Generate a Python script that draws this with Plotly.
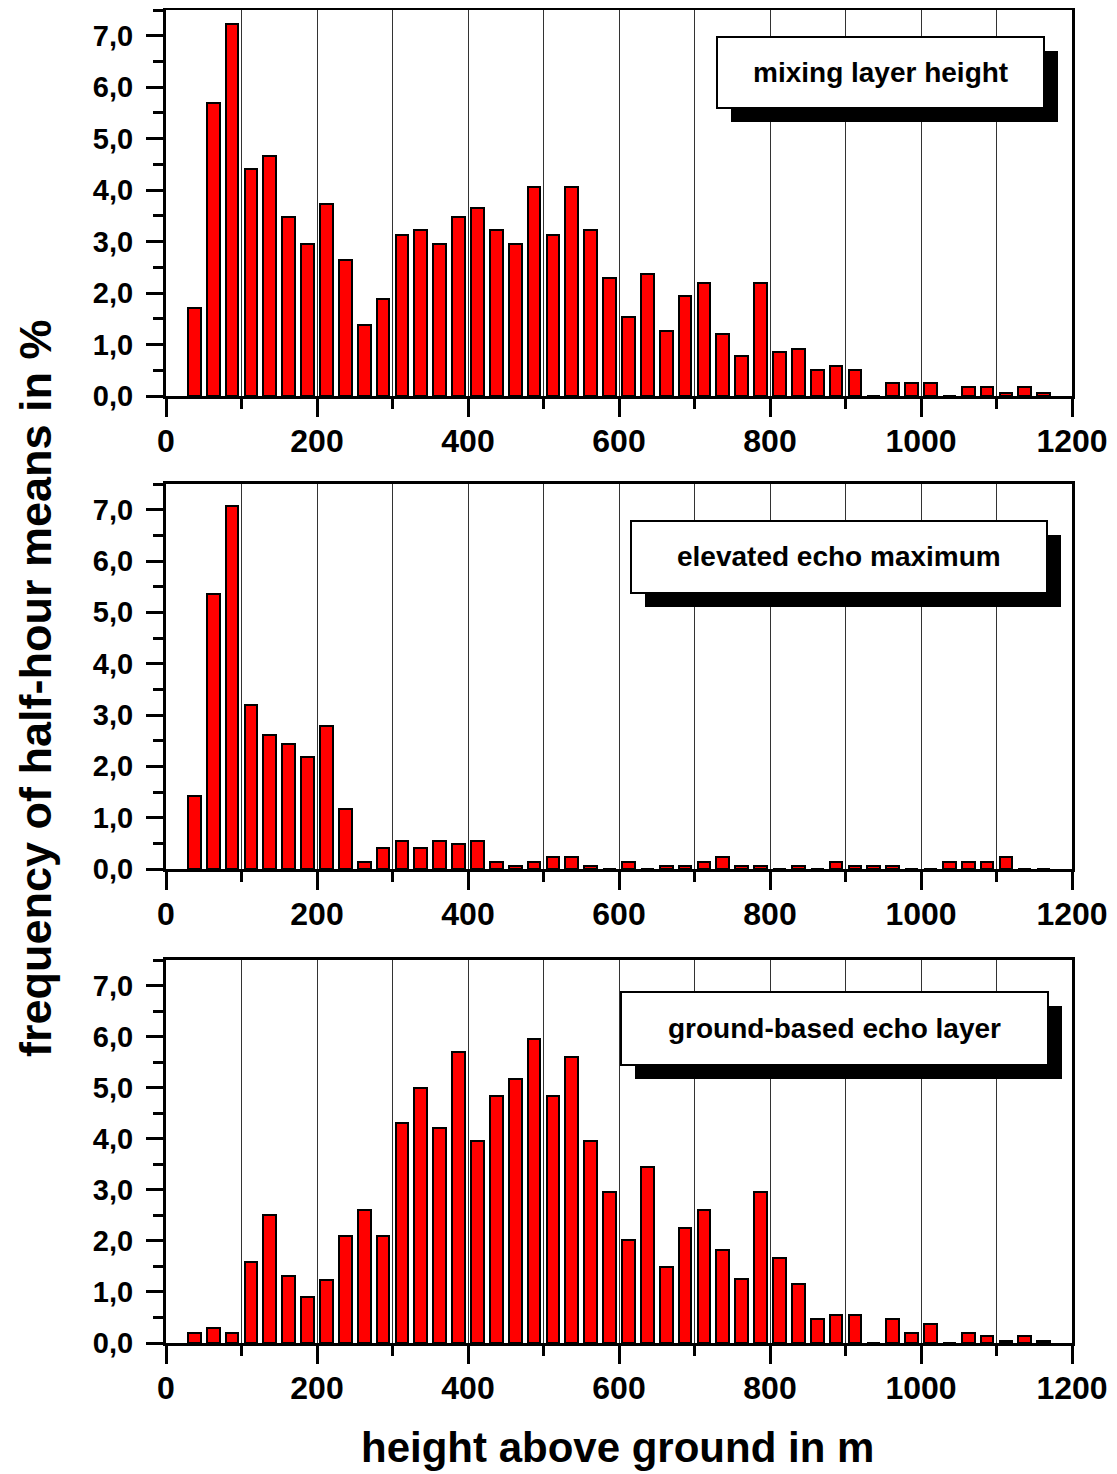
import plotly.graph_objects as go

# page offset of the plotly div (default body margin of the html page)
OFF = 8
W, H = 1117 - OFF, 1474 - OFF

heights = [37.5, 62.5, 87.5, 112.5, 137.5, 162.5, 187.5, 212.5, 237.5, 262.5,
           287.5, 312.5, 337.5, 362.5, 387.5, 412.5, 437.5, 462.5, 487.5, 512.5,
           537.5, 562.5, 587.5, 612.5, 637.5, 662.5, 687.5, 712.5, 737.5, 762.5,
           787.5, 812.5, 837.5, 862.5, 887.5, 912.5, 937.5, 962.5, 987.5, 1012.5,
           1037.5, 1062.5, 1087.5, 1112.5, 1137.5, 1162.5]

mixing_layer = [1.71, 5.70, 7.22, 4.41, 4.66, 3.48, 2.96, 3.73, 2.65, 1.37,
                1.88, 3.13, 3.23, 2.96, 3.48, 3.65, 3.23, 2.96, 4.07, 3.13,
                4.07, 3.23, 2.30, 1.54, 2.37, 1.27, 1.95, 2.20, 1.20, 0.77,
                2.20, 0.85, 0.92, 0.50, 0.59, 0.50, 0.0, 0.25, 0.25, 0.25,
                0.0, 0.17, 0.17, 0.05, 0.17, 0.05]

elevated_echo = [1.42, 5.36, 7.07, 3.20, 2.61, 2.44, 2.19, 2.79, 1.17, 0.14,
                 0.41, 0.55, 0.41, 0.55, 0.48, 0.55, 0.14, 0.05, 0.14, 0.23,
                 0.23, 0.05, 0.0, 0.14, 0.0, 0.05, 0.05, 0.14, 0.23, 0.05,
                 0.05, 0.0, 0.05, 0.0, 0.14, 0.05, 0.05, 0.05, 0.0, 0.0,
                 0.14, 0.14, 0.14, 0.23, 0.0, 0.0]

ground_echo = [0.19, 0.30, 0.19, 1.59, 2.50, 1.32, 0.90, 1.24, 2.09, 2.61,
               2.09, 4.31, 4.99, 4.22, 5.69, 3.96, 4.83, 5.17, 5.95, 4.83,
               5.60, 3.96, 2.95, 2.01, 3.44, 1.49, 2.26, 2.61, 1.83, 1.25,
               2.95, 1.66, 1.15, 0.47, 0.55, 0.55, 0.0, 0.47, 0.19, 0.37,
               0.0, 0.19, 0.13, 0.04, 0.13, 0.04]

panel_labels = ["mixing layer height", "elevated echo maximum", "ground-based echo layer"]
series = [mixing_layer, elevated_echo, ground_echo]

x_tickvals = [0, 200, 400, 600, 800, 1000, 1200]
x_ticktext = ["0", "200", "400", "600", "800", "1000", "1200"]
y_tickvals = [0, 1, 2, 3, 4, 5, 6, 7]
y_ticktext = ["0,0", "1,0", "2,0", "3,0", "4,0", "5,0", "6,0", "7,0"]

x_title = "height above ground in m"
y_title = "frequency of half-hour means in %"

FONT = "Liberation Sans, Arial, sans-serif"

# pixel layout (page coordinates of the reference)
plot_left, plot_right = 166, 1072
panel_px = [(10, 396), (484, 869), (960, 1343)]
box_px = [(717, 37, 1044, 108), (631, 521, 1047, 593), (621, 992, 1048, 1065)]
shadow_off = (14, 14)


def px(x):
    return (x - OFF) / W


def py(y):
    return 1 - (y - OFF) / H


fig = go.Figure()
shapes = []
annotations = []

for i, (vals, label) in enumerate(zip(series, panel_labels)):
    n = "" if i == 0 else str(i + 1)
    fig.add_trace(go.Bar(
        x=heights, y=vals, width=17,
        marker=dict(color="#ff0000", line=dict(color="black", width=2)),
        xaxis="x" + n, yaxis="y" + n, showlegend=False,
    ))
    top, bot = panel_px[i]
    fig.update_layout(**{
        "xaxis" + n: dict(
            domain=[px(plot_left), px(plot_right)], anchor="y" + n,
            range=[0, 1200], tickvals=x_tickvals, ticktext=x_ticktext,
            ticks="outside", ticklen=18, tickwidth=3, tickcolor="black",
            showline=True, linewidth=3, linecolor="black", mirror=True,
            showgrid=True, gridcolor="#333333", gridwidth=1,
            minor=dict(dtick=100, tick0=0, ticks="outside", ticklen=10, tickwidth=3,
                       tickcolor="black", showgrid=True, gridcolor="#333333", gridwidth=1),
            tickfont=dict(family=FONT, size=32, color="black", weight="bold"),
            ticklabelstandoff=-3, zeroline=False, fixedrange=True,
        ),
        "yaxis" + n: dict(
            domain=[py(bot), py(top)], anchor="x" + n,
            range=[0, 7.5], tickvals=y_tickvals, ticktext=y_ticktext,
            ticks="outside", ticklen=17, tickwidth=3, tickcolor="black",
            showline=True, linewidth=3, linecolor="black", mirror=True,
            showgrid=False, zeroline=False,
            minor=dict(dtick=0.5, tick0=0, ticks="outside", ticklen=10, tickwidth=3,
                       tickcolor="black", showgrid=False),
            tickfont=dict(family=FONT, size=29, color="black", weight="bold"),
            ticklabelstandoff=7, fixedrange=True,
        ),
    })
    x0, y0, x1, y1 = box_px[i]
    shapes.append(dict(type="rect", xref="paper", yref="paper",
                       x0=px(x0 + shadow_off[0]), x1=px(x1 + shadow_off[0]),
                       y0=py(y1 + shadow_off[1]), y1=py(y0 + shadow_off[1]),
                       fillcolor="black", line=dict(width=0), layer="above"))
    shapes.append(dict(type="rect", xref="paper", yref="paper",
                       x0=px(x0), x1=px(x1), y0=py(y1), y1=py(y0),
                       fillcolor="white", line=dict(color="black", width=2), layer="above"))
    annotations.append(dict(text=label, xref="paper", yref="paper",
                            x=px((x0 + x1) / 2), y=py((y0 + y1) / 2),
                            xanchor="center", yanchor="middle", showarrow=False,
                            font=dict(family=FONT, size=28, color="black", weight="bold")))

annotations.append(dict(text=x_title, xref="paper", yref="paper",
                        x=px(617), y=py(1447), xanchor="center", yanchor="middle",
                        showarrow=False,
                        font=dict(family=FONT, size=42, color="black", weight="bold")))
annotations.append(dict(text=y_title, xref="paper", yref="paper",
                        x=px(35), y=py(688), xanchor="center", yanchor="middle",
                        showarrow=False, textangle=-90,
                        font=dict(family=FONT, size=45, color="black", weight="bold")))

fig.update_layout(
    width=W, height=H,
    margin=dict(l=0, r=0, t=0, b=0, autoexpand=False),
    paper_bgcolor="white", plot_bgcolor="white",
    shapes=shapes, annotations=annotations,
    bargap=0,
)

fig.write_html("out.html")
